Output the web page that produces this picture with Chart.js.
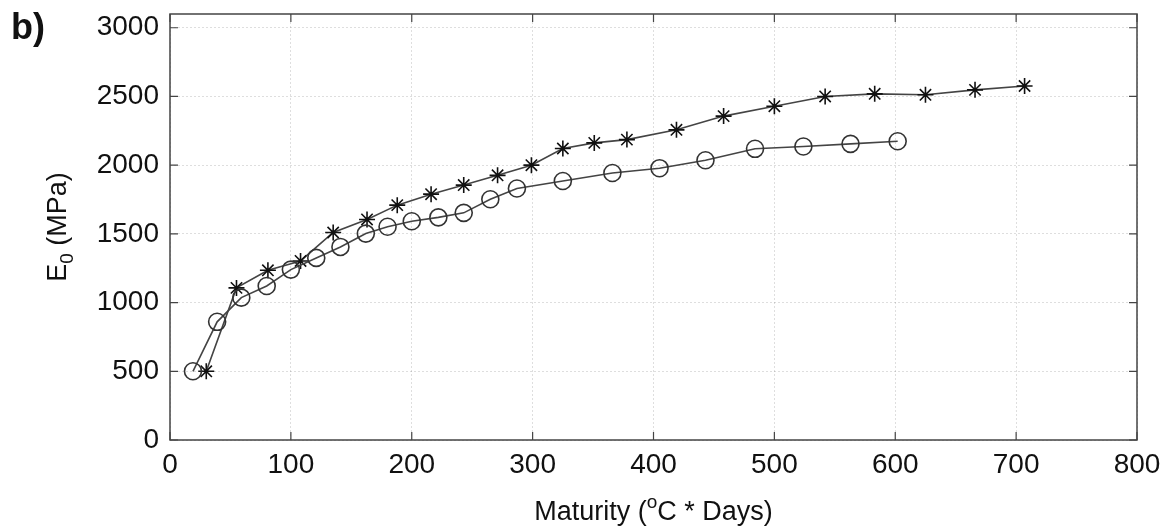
<!DOCTYPE html>
<html>
<head>
<meta charset="utf-8">
<script src="https://cdn.jsdelivr.net/npm/chart.js@4/dist/chart.umd.min.js"></script>
<style>
  html, body { margin: 0; padding: 0; background: #fff; }
  #wrap { width: 1172px; height: 531px; }
</style>
</head>
<body>
<div id="wrap"><canvas id="maturityChart" width="1172" height="531"></canvas></div>
<script>
// circles series
var circleX = [19, 39, 59, 80, 100, 121, 141, 162, 180, 200, 222, 243, 265, 287, 325, 366, 405, 443, 484, 524, 563, 602];
var circleY = [500, 860, 1036, 1121, 1240, 1325, 1405, 1502, 1552, 1592, 1620, 1653, 1752, 1830, 1885, 1943, 1978, 2036, 2119, 2136, 2155, 2174];
// asterisk series
var starX = [30, 55, 81, 108, 135, 163, 188, 216, 243, 271, 299, 325, 351, 378, 419, 458, 500, 542, 583, 625, 666, 707];
var starY = [500, 1107, 1235, 1303, 1510, 1605, 1709, 1789, 1855, 1926, 2000, 2121, 2162, 2186, 2257, 2357, 2429, 2500, 2519, 2512, 2548, 2576];

var xTicks = [0, 100, 200, 300, 400, 500, 600, 700, 800];
var yTicks = [0, 500, 1000, 1500, 2000, 2500, 3000];

var panelLabel = 'b)';
// titles split into [normal, raised/lowered, normal]
var xTitleParts = ['Maturity (', 'o', 'C * Days)'];
var yTitleParts = ['E', '0', ' (MPa)'];

var FONT = '"Liberation Sans", Arial, sans-serif';

function toPoints(xs, ys) {
    return xs.map((x, i) => ({ x: x, y: ys[i] }));
}

// draws text with a super/subscript middle part, centred at 0 on the current baseline
function drawScripted(ctx, parts, size, shift) {
    var big = size + 'px ' + FONT;
    var small = Math.round(size * 0.7) + 'px ' + FONT;
    ctx.font = big;
    var w0 = ctx.measureText(parts[0]).width;
    var w2 = ctx.measureText(parts[2]).width;
    ctx.font = small;
    var w1 = ctx.measureText(parts[1]).width;
    var x = -(w0 + w1 + w2) / 2;
    ctx.font = big;
    ctx.fillText(parts[0], x, 0);
    ctx.font = small;
    ctx.fillText(parts[1], x + w0, shift);
    ctx.font = big;
    ctx.fillText(parts[2], x + w0 + w1, 0);
}

// matlab style box with inward ticks, axis titles and panel label
var boxPlugin = {
    id: 'boxPlugin',
    afterDraw: function(chart) {
        var ctx = chart.ctx;
        var a = chart.chartArea;
        var xs = chart.scales.x, ys = chart.scales.y;
        var len = 8;
        ctx.save();
        ctx.strokeStyle = '#444';
        ctx.lineWidth = 1.5;
        ctx.strokeRect(a.left, a.top, a.right - a.left, a.bottom - a.top);
        ctx.lineWidth = 1.2;
        ctx.beginPath();
        xTicks.forEach(function(v) {
            var px = xs.getPixelForValue(v);
            ctx.moveTo(px, a.bottom); ctx.lineTo(px, a.bottom - len);
            ctx.moveTo(px, a.top); ctx.lineTo(px, a.top + len);
        });
        yTicks.forEach(function(v) {
            var py = ys.getPixelForValue(v);
            ctx.moveTo(a.left, py); ctx.lineTo(a.left + len, py);
            ctx.moveTo(a.right, py); ctx.lineTo(a.right - len, py);
        });
        ctx.stroke();

        ctx.fillStyle = '#111';
        ctx.textBaseline = 'alphabetic';
        ctx.textAlign = 'left';

        // x title
        ctx.save();
        ctx.translate((a.left + a.right) / 2, 520);
        drawScripted(ctx, xTitleParts, 27, -12);
        ctx.restore();

        // y title (rotated)
        ctx.save();
        ctx.translate(66, (a.top + a.bottom) / 2);
        ctx.rotate(-Math.PI / 2);
        drawScripted(ctx, yTitleParts, 27, 7);
        ctx.restore();

        ctx.font = 'bold 36px ' + FONT;
        ctx.fillText(panelLabel, 11, 39);
        ctx.restore();
    }
};

var ctx = document.getElementById('maturityChart').getContext('2d');
var maturityChart = new Chart(ctx, {
    type: 'line',
    data: {
        datasets: [
            {
                label: 'circles',
                data: toPoints(circleX, circleY),
                borderColor: '#444',
                borderWidth: 1.6,
                pointStyle: 'circle',
                pointRadius: 8.5,
                pointBorderColor: '#333',
                pointBorderWidth: 1.6,
                pointBackgroundColor: 'rgba(0,0,0,0)',
                fill: false,
                tension: 0
            },
            {
                label: 'stars',
                data: toPoints(starX, starY),
                borderColor: '#444',
                borderWidth: 1.6,
                pointStyle: 'star',
                pointRadius: 8,
                pointBorderColor: '#111',
                pointBorderWidth: 1.6,
                pointBackgroundColor: 'rgba(0,0,0,0)',
                fill: false,
                tension: 0
            }
        ]
    },
    options: {
        responsive: false,
        animation: false,
        layout: { padding: { left: 0, right: 35, top: 14, bottom: 0 } },
        plugins: {
            legend: { display: false },
            tooltip: { enabled: false }
        },
        scales: {
            x: {
                type: 'linear',
                min: 0,
                max: 800,
                afterBuildTicks: function(scale) {
                    scale.ticks = xTicks.map(v => ({ value: v }));
                },
                afterFit: function(scale) {
                    scale.height = 91;
                    scale.paddingLeft = 0;
                    scale.paddingRight = 0;
                },
                grid: { color: 'rgba(0,0,0,0.13)', lineWidth: 1, drawTicks: false },
                border: { display: false, dash: [2, 2] },
                ticks: {
                    color: '#111',
                    padding: 11,
                    maxRotation: 0,
                    callback: v => String(v),
                    font: { family: FONT, size: 28, lineHeight: 1 }
                }
            },
            y: {
                type: 'linear',
                min: 0,
                max: 3100,
                afterBuildTicks: function(scale) {
                    scale.ticks = yTicks.map(v => ({ value: v }));
                },
                afterFit: function(scale) {
                    scale.width = 170;
                    scale.paddingTop = 0;
                    scale.paddingBottom = 0;
                },
                grid: { color: 'rgba(0,0,0,0.13)', lineWidth: 1, drawTicks: false },
                border: { display: false, dash: [2, 2] },
                ticks: {
                    color: '#111',
                    padding: 11,
                    callback: v => String(v),
                    font: { family: FONT, size: 28, lineHeight: 1 }
                }
            }
        }
    },
    plugins: [boxPlugin]
});
</script>
</body>
</html>
